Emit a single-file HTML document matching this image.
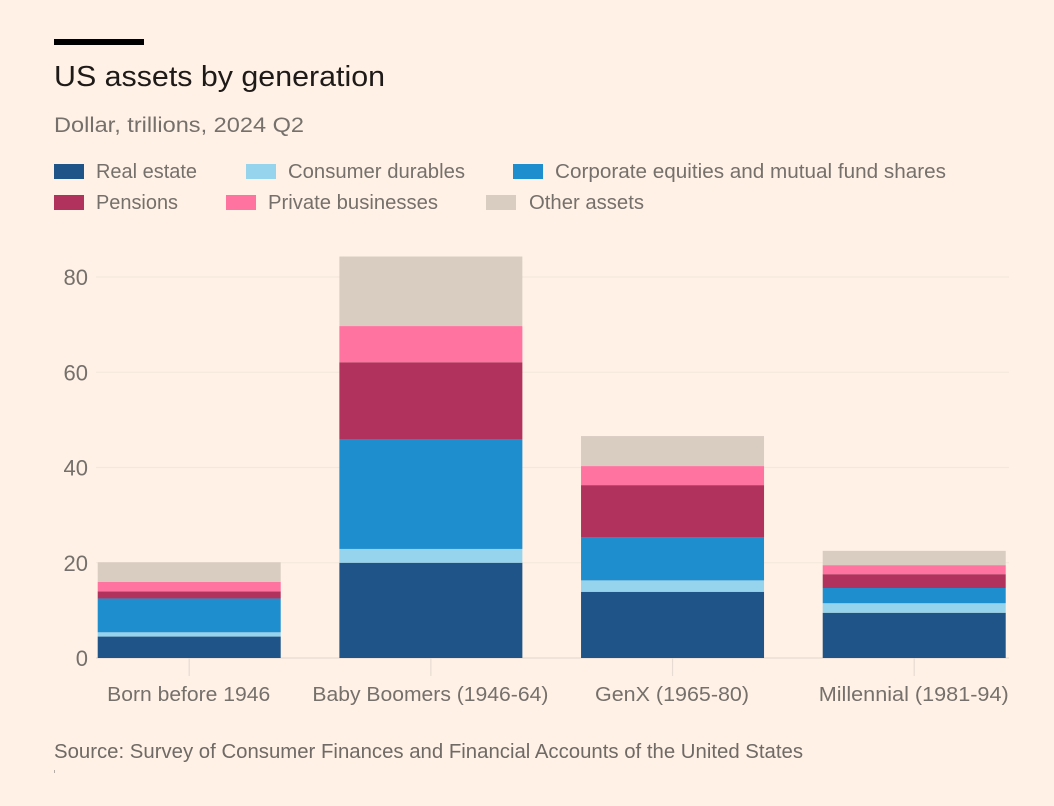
<!DOCTYPE html>
<html lang="en">
<head>
<meta charset="utf-8">
<title>US assets by generation</title>
<style>
html,body{margin:0;padding:0;background:#fff1e5;}
svg{display:block;font-family:"Liberation Sans",sans-serif;}
</style>
</head>
<body>
<svg id="chart" xmlns="http://www.w3.org/2000/svg" width="1054" height="806" viewBox="0 0 1054 806">
  <rect x="0" y="0" width="1054" height="806" fill="#fff1e5"/>
  <rect x="54" y="39" width="90" height="6" fill="#000"/>
  <text x="54" y="86" font-size="29" fill="#1e1a18" textLength="331" lengthAdjust="spacingAndGlyphs">US assets by generation</text>
  <text x="54" y="132" font-size="21.5" fill="#75706c" textLength="250" lengthAdjust="spacingAndGlyphs">Dollar, trillions, 2024 Q2</text>
  <g id="legend"></g>
  <g id="grid"></g>
  <g id="bars"></g>
  <g id="xaxis"></g>
  <g id="yaxis"></g>
  <text x="54" y="758" font-size="20" fill="#6f6a66" textLength="749" lengthAdjust="spacingAndGlyphs">Source: Survey of Consumer Finances and Financial Accounts of the United States</text>
  <rect x="54" y="770" width="1" height="3" fill="#b5aca5"/>
</svg>
<script>
const categories = ["Born before 1946", "Baby Boomers (1946-64)", "GenX (1965-80)", "Millennial (1981-94)"];
const seriesNames = ["Real estate", "Consumer durables", "Corporate equities and mutual fund shares", "Pensions", "Private businesses", "Other assets"];
const realEstate = [4.5, 20.0, 13.9, 9.5];
const consumerDurables = [0.9, 2.9, 2.4, 2.0];
const corporateEquities = [7.1, 23.0, 9.1, 3.2];
const pensions = [1.5, 16.2, 10.9, 2.9];
const privateBusinesses = [2.0, 7.6, 4.0, 1.9];
const otherAssets = [4.1, 14.6, 6.3, 3.0];
const yTicks = [0, 20, 40, 60, 80];

const NS = "http://www.w3.org/2000/svg";
const allSeries = [realEstate, consumerDurables, corporateEquities, pensions, privateBusinesses, otherAssets];
const seriesColors = ["#1f5489", "#96d3ec", "#1e8ecf", "#b1325c", "#ff73a1", "#d9ccc1"];

function yScale(v) { return 658 - v * (381 / 80); }
const barWidth = 183;
function xBand(i) { return 97.7 + i * 241.67; }

function mk(tag, attrs, parent) {
  const el = document.createElementNS(NS, tag);
  for (const k in attrs) el.setAttribute(k, attrs[k]);
  parent.appendChild(el);
  return el;
}
function slug(s) { return s.toLowerCase().replace(/[^a-z0-9]+/g, "-").replace(/^-|-$/g, ""); }

/* Legend layout */
const legendSlots = [
  { sx: 54, tx: 96, w: 101, y: 164 },
  { sx: 246, tx: 288, w: 177, y: 164 },
  { sx: 513, tx: 555, w: 391, y: 164 },
  { sx: 54, tx: 96, w: 82, y: 195 },
  { sx: 226, tx: 268, w: 170, y: 195 },
  { sx: 486, tx: 529, w: 115, y: 195 }
];
const legendG = document.getElementById("legend");
seriesNames.forEach(function (name, i) {
  const s = legendSlots[i];
  const entry = mk("g", {}, legendG);
  
  
  const sw = mk("rect", { x: s.sx, y: s.y, width: 30, height: 15, fill: seriesColors[i] }, entry);
  
  
  const t = mk("text", { x: s.tx, y: s.y + 14, "font-size": 20, fill: "#75706c", textLength: s.w, lengthAdjust: "spacingAndGlyphs" }, entry);
  
  
  t.textContent = name;
});

/* Grid and y axis */
const gridG = document.getElementById("grid");
const yG = document.getElementById("yaxis");
yTicks.forEach(function (v) {
  const y = yScale(v);
  const line = mk("line", { x1: 96, x2: 1009, y1: y, y2: y, stroke: v === 0 ? "#e6dcd3" : "#f4e8dd", "stroke-width": 1.2 }, gridG);
  
  
  const t = mk("text", { x: 88, y: y + 8, "font-size": 22, fill: "#75706c", "text-anchor": "end" }, yG);
  
  
  t.textContent = String(v);
});

/* Stacked bars */
const barsG = document.getElementById("bars");
categories.forEach(function (cat, i) {
  const g = mk("g", {}, barsG);
  
  
  let cum = 0;
  allSeries.forEach(function (series, j) {
    const top = yScale(cum + series[i]);
    const bottom = yScale(cum);
    const r = mk("rect", { x: xBand(i), y: top, width: barWidth, height: bottom - top, fill: seriesColors[j] }, g);
    
    
    cum += series[i];
  });
});

/* X axis */
const xLabelWidths = [163, 236, 154, 190];
const xG = document.getElementById("xaxis");
categories.forEach(function (cat, i) {
  const cx = xBand(i) + barWidth / 2;
  const tick = mk("line", { x1: cx, x2: cx, y1: 658, y2: 676, stroke: "#e6dcd3", "stroke-width": 1.2 }, xG);
  
  
  const t = mk("text", { x: cx - 0.5, y: 701, "font-size": 20, fill: "#75706c", "text-anchor": "middle", textLength: xLabelWidths[i], lengthAdjust: "spacingAndGlyphs" }, xG);
  
  
  t.textContent = cat;
});
</script>
</body>
</html>
